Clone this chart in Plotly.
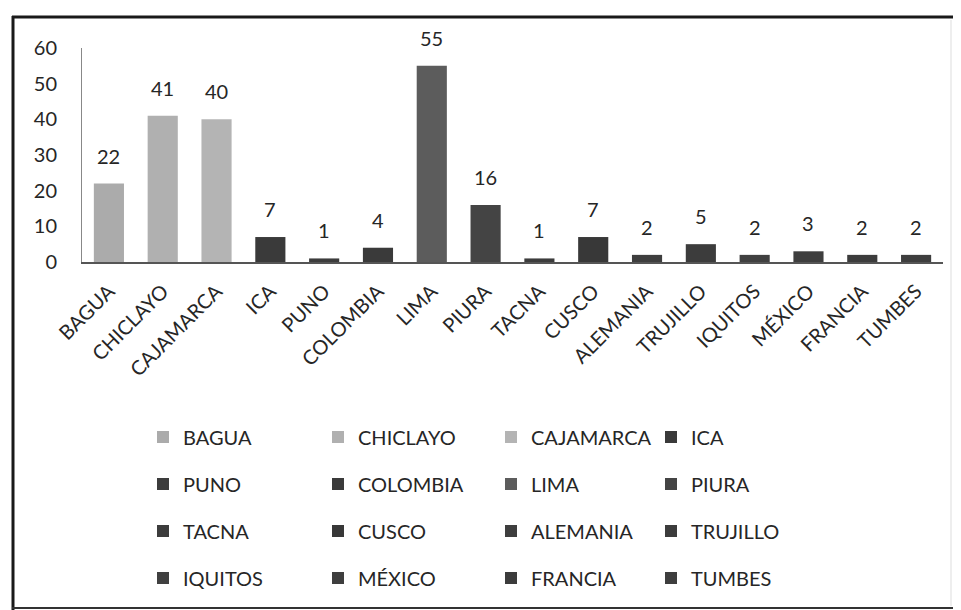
import plotly.graph_objects as go

categories = ["BAGUA", "CHICLAYO", "CAJAMARCA", "ICA", "PUNO", "COLOMBIA", "LIMA", "PIURA",
              "TACNA", "CUSCO", "ALEMANIA", "TRUJILLO", "IQUITOS", "MÉXICO", "FRANCIA", "TUMBES"]
values = [22, 41, 40, 7, 1, 4, 55, 16, 1, 7, 2, 5, 2, 3, 2, 2]
colors = ["#ababab", "#b0b0b0", "#b4b4b4", "#3a3a3a", "#3c3c3c", "#3a3a3a", "#5c5c5c", "#444444",
          "#3c3c3c", "#383838", "#3e3e3e", "#3c3c3c", "#404040", "#3e3e3e", "#3c3c3c", "#3e3e3e"]
y_ticks = [0, 10, 20, 30, 40, 50, 60]

OFF = 8  # page body margin
W, H = 961 - OFF, 610 - OFF
# plot area in page pixels: left 82, right 943, top 48, bottom 262
L, T = 82 - OFF, 48 - OFF
R = W - (943 - OFF)
B = H - (262 - OFF)
PW, PH = W - L - R, H - T - B

FONT = "Lato, 'Open Sans', sans-serif"
TXT = "#262626"

# legend grid (4 columns x 4 rows), page pixel positions
col_x = [143, 318, 491, 651]
row_y = [437, 484, 531, 578]

fig = go.Figure()
for i, (c, v, col) in enumerate(zip(categories, values, colors)):
    lg = "legend" if i == 0 else f"legend{i+1}"
    fig.add_trace(go.Bar(
        x=[c], y=[v], name=c, marker=dict(color=col, line=dict(width=0)),
        width=0.56, legend=lg, showlegend=True,
    ))

annotations = []
for c, v in zip(categories, values):
    annotations.append(dict(
        x=c, y=v, xref="x", yref="y", text=str(v), showarrow=False,
        yanchor="bottom", yshift=14, font=dict(size=20, color=TXT, family=FONT),
    ))

legends = {}
for i in range(len(categories)):
    key = "legend" if i == 0 else f"legend{i+1}"
    r, cc = divmod(i, 4)
    legends[key] = dict(
        x=(col_x[cc] - OFF) / W, y=1 - (row_y[r] - OFF) / H, xref="container", yref="container",
        xanchor="left", yanchor="middle", orientation="h",
        bgcolor="rgba(0,0,0,0)", borderwidth=0,
        font=dict(size=20, color=TXT, family=FONT), itemwidth=30,
    )


def px2paper_x(px):
    return (px - OFF - L) / PW


def px2paper_y(py):
    return (H - B - (py - OFF)) / PH


shapes = [
    dict(type="line", xref="paper", yref="paper", x0=px2paper_x(13), x1=px2paper_x(13),
         y0=px2paper_y(16), y1=px2paper_y(612), line=dict(color="#1a1a1a", width=3)),
    dict(type="line", xref="paper", yref="paper", x0=px2paper_x(12), x1=px2paper_x(965),
         y0=px2paper_y(17), y1=px2paper_y(17), line=dict(color="#1a1a1a", width=3)),
    dict(type="line", xref="paper", yref="paper", x0=px2paper_x(12), x1=px2paper_x(965),
         y0=px2paper_y(608), y1=px2paper_y(608), line=dict(color="#333333", width=2)),
    dict(type="line", xref="paper", yref="paper", x0=px2paper_x(951), x1=px2paper_x(951),
         y0=px2paper_y(20), y1=px2paper_y(606), line=dict(color="#dddddd", width=1)),
]

fig.update_layout(
    width=W, height=H,
    margin=dict(l=L, r=R, t=T, b=B, autoexpand=False),
    paper_bgcolor="white", plot_bgcolor="white",
    font=dict(family=FONT, color=TXT, size=18),
    bargap=0.44,
    annotations=annotations,
    shapes=shapes,
    **legends,
)
fig.update_xaxes(
    categoryorder="array", categoryarray=categories,
    tickangle=-45, tickfont=dict(size=20, color=TXT, family=FONT),
    showline=True, linecolor="#555555", linewidth=1.5, showgrid=False,
    ticks="", ticklabelstandoff=8,
)
fig.update_yaxes(
    range=[0, 60], tickvals=y_ticks, tickfont=dict(size=20, color=TXT, family=FONT),
    showline=True, linecolor="#888888", linewidth=1, showgrid=False, zeroline=False,
    ticks="", ticklabelstandoff=20,
)

fig.write_html("out.html")
